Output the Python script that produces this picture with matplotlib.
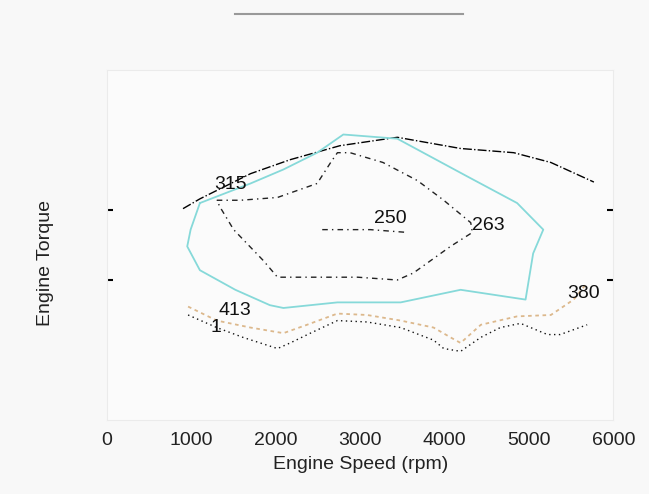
import matplotlib
matplotlib.use("Agg")
import matplotlib.pyplot as plt
from matplotlib.lines import Line2D

plt.rcParams['font.family'] = ['Liberation Sans', 'DejaVu Sans']

# contour lines: engine speed (rpm) vs torque
c315_rpm = [900, 1100, 1700, 2170, 2760, 3440, 4190, 4820, 5260, 5770]
c315_tq = [151, 158, 176, 186, 196, 202, 194, 191, 184, 170]

cyan_rpm = [1100, 1700, 2090, 2490, 2800, 3440, 4270, 4860, 5170, 5050, 4960,
            4190, 3480, 2730, 2090, 1930, 1520, 1100, 950, 990, 1100]
cyan_tq = [155, 169, 179, 191, 204, 201, 174, 155, 136, 119, 86,
           93, 84, 84, 80, 82, 93, 107, 124, 136, 155]

c263_rpm = [1300, 1580, 2020, 2490, 2650, 2730, 2880, 3270, 3680, 3990, 4310,
            4330, 4070, 3630, 3440, 2970, 2410, 2020, 1850, 1500, 1340, 1300]
c263_tq = [157, 157, 159, 169, 184, 191, 191, 184, 171, 157, 141,
           134, 124, 105, 100, 102, 102, 102, 114, 136, 152, 157]

c250_rpm = [2550, 2850, 3120, 3560]
c250_tq = [136, 136, 136, 134]

tan_rpm = [960, 1300, 1700, 2090, 2370, 2730, 3080, 3480, 3870, 4070, 4190,
           4430, 4860, 5260, 5530, 5690]
tan_tq = [81, 71, 66, 62, 68, 76, 75, 71, 66, 59, 55, 68, 74, 75, 86, 98]

low_rpm = [960, 1300, 1610, 2020, 2170, 2410, 2730, 3080, 3480, 3870, 3990,
           4190, 4430, 4660, 4900, 5220, 5370, 5690]
low_tq = [75, 66, 59, 51, 55, 62, 71, 70, 66, 57, 51, 49, 59, 66, 69, 61, 61, 68]

# contour labels: text, rpm, torque
labels = ["315", "250", "263", "413", "1", "380"]
label_rpm = [1460, 3360, 4520, 1520, 1290, 5650]
label_tq = [168, 144, 139, 78, 66, 90]

xticks = [0, 1000, 2000, 3000, 4000, 5000, 6000]

fig = plt.figure(figsize=(6.49, 4.94), dpi=100, facecolor="#f8f8f8")
ax = fig.add_axes([0.165, 0.150, 0.78, 0.708])
ax.set_facecolor("#fbfbfb")

ax.plot(c315_rpm, c315_tq, color="black", lw=1.0, linestyle="-.")
ax.plot(cyan_rpm, cyan_tq, color="#86d9d9", lw=1.3)
ax.plot(c263_rpm, c263_tq, color="#222222", lw=1.0, linestyle=(0, (4, 3, 1, 3)))
ax.plot(c250_rpm, c250_tq, color="#222222", lw=1.0, linestyle=(0, (4, 3, 1, 3)))
ax.plot(tan_rpm, tan_tq, color="#dcb88c", lw=1.3, linestyle=(0, (2, 2)))
ax.plot(low_rpm, low_tq, color="#111111", lw=1.0, linestyle=(0, (1, 2.5)))

for t, x, y in zip(labels, label_rpm, label_tq):
    ax.text(x, y, t, fontsize=14, ha="center", va="center", color="#111111")

ax.set_xlim(0, 6000)
ax.set_ylim(0, 250)
ax.set_xticks(xticks)
ax.set_xticklabels([str(v) for v in xticks], fontsize=14, color="#222222")
ax.set_xticks([3000, 5000], minor=True)
ax.tick_params(axis="x", which="major", length=0, pad=9)
ax.tick_params(axis="x", which="minor", length=5, width=1.5, direction="in",
               top=True, bottom=True)
ax.set_yticks([100, 150])
ax.set_yticklabels([])
ax.tick_params(axis="y", length=4, width=1.5, direction="in", left=True, right=True)

for s in ax.spines.values():
    s.set_color("#ebebeb")
    s.set_linewidth(0.8)

ax.set_xlabel("Engine Speed (rpm)", fontsize=14, labelpad=5, color="#222222")
ax.set_ylabel("Engine Torque", fontsize=14, color="#222222")
ax.yaxis.set_label_coords(-0.105, 0.45)

# faint line where the title would be
fig.add_artist(Line2D([235 / 649, 463 / 649], [1 - 14 / 494, 1 - 14 / 494],
                      color="#999999", lw=1.5))

fig.savefig("out.png", dpi=100, facecolor=fig.get_facecolor())
